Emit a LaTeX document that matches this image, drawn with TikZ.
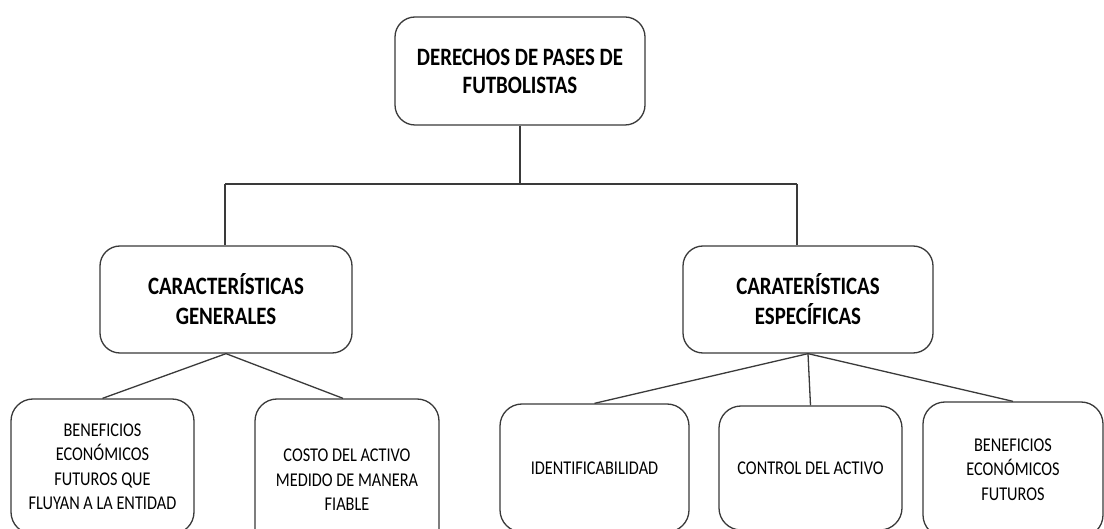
\documentclass[tikz,border=0pt]{standalone}
\usepackage{fontspec}
\setmainfont{Carlito}[FakeStretch=0.835]
\usetikzlibrary{calc}
\definecolor{edge}{HTML}{3A3A3A}
\tikzset{
  box/.style={draw=edge, line width=1.3pt, rounded corners=20pt, fill=white, align=center, inner sep=0pt},
  headbox/.style={box, font=\bfseries\fontsize{25}{28}\selectfont},
  midbox/.style={box, font=\bfseries\fontsize{25}{30}\selectfont},
  leafbox/.style={box, rounded corners=22pt, font=\fontsize{19.5}{24.5}\selectfont},
  link/.style={draw=edge, line width=1.3pt}
}
\begin{document}
\begin{tikzpicture}[x=1pt,y=-1pt]
\useasboundingbox (0,0) rectangle (1104,529);
\clip (0,0) rectangle (1104,529);
\fill[white] (0,0) rectangle (1104,529);
\node[headbox, minimum width=250pt, minimum height=108pt] (top) at (520,71) {DERECHOS DE PASES DE\\FUTBOLISTAS};
\node[midbox, minimum width=252pt, minimum height=107pt] (gen) at (226,299.5) {CARACTERÍSTICAS\\GENERALES};
\node[midbox, minimum width=250pt, minimum height=107pt] (esp) at (808,299.5) {CARATERÍSTICAS\\ESPECÍFICAS};
\node[leafbox, minimum width=183pt, minimum height=135pt] (b1) at (102.5,466.5) {BENEFICIOS\\ECONÓMICOS\\FUTUROS QUE\\FLUYAN A LA ENTIDAD};
\node[leafbox, minimum width=184pt, minimum height=162pt] (b2) at (347,480) {COSTO DEL ACTIVO\\MEDIDO DE MANERA\\FIABLE};
\node[leafbox, minimum width=189pt, minimum height=128pt] (b3) at (594.5,468) {IDENTIFICABILIDAD};
\node[leafbox, minimum width=183pt, minimum height=124pt] (b4) at (810.5,468) {CONTROL DEL ACTIVO};
\node[leafbox, minimum width=180pt, minimum height=135pt] (b5) at (1013,469.5) {BENEFICIOS\\ECONÓMICOS\\FUTUROS};
\coordinate (j) at (520,184);
\coordinate (jl) at (225,184);
\coordinate (jr) at (797,184);
\draw[link] (top.south) -- (j);
\draw[link] (jl) -- (jr);
\draw[link] (jl) -- (jl |- gen.north);
\draw[link] (jr) -- (jr |- esp.north);
\draw[link] (gen.south) -- (b1.north);
\draw[link] (gen.south) -- ($(b2.north)+(-4,0)$);
\draw[link] (esp.south) -- (b3.north);
\draw[link] (esp.south) -- (b4.north);
\draw[link] (esp.south) -- (b5.north);
\end{tikzpicture}
\end{document}
